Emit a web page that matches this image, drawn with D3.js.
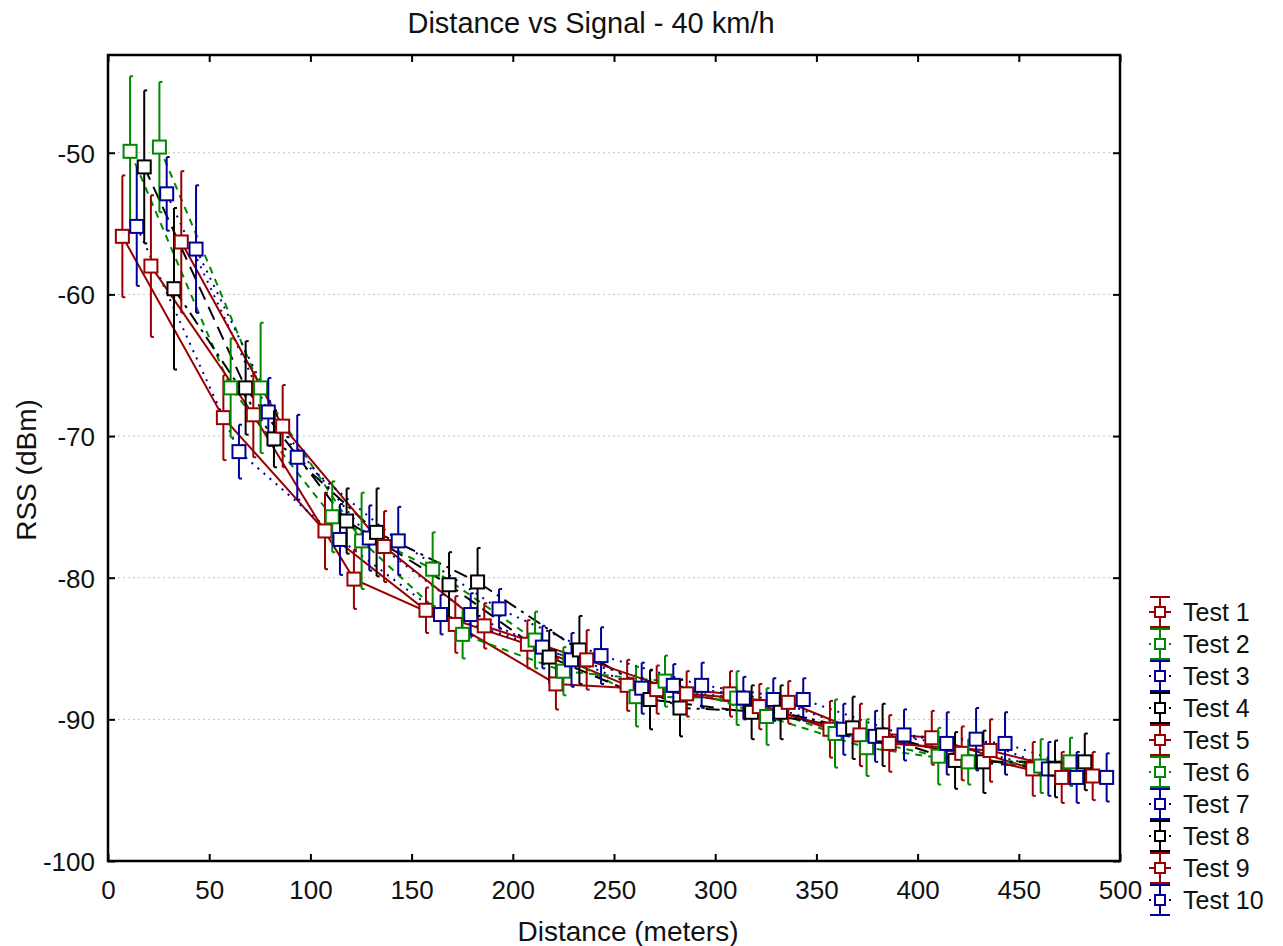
<!DOCTYPE html>
<html>
<head>
<meta charset="utf-8">
<script src="https://cdn.jsdelivr.net/npm/d3@7"></script>
<style>
  body { margin: 0; background: #fff; }
  svg { display: block; font-family: "Liberation Sans", Arial, sans-serif; }
</style>
</head>
<body>
<div id="chart"></div>
<script>
// Distance vs signal, 10 drive tests at 40 km/h
const testNames = ["Test 1", "Test 2", "Test 3", "Test 4", "Test 5",
                   "Test 6", "Test 7", "Test 8", "Test 9", "Test 10"];

// distance (m) of each mean point, one row per test
const distance = [
    [7.1, 57, 107.2, 157.1, 207.2, 256.5, 307.3, 356.7, 407, 456.9],
    [10.9, 60.6, 110.8, 160.4, 211, 260.9, 310.6, 359.2, 410.2, 460.8],
    [14.2, 64.7, 114.6, 164.3, 214.6, 263.7, 313.9, 363.3, 414.4, 464.6],
    [17.9, 68, 117.9, 168.5, 218, 267.8, 318, 367.9, 418.5, 467.9],
    [21.2, 71.8, 121.5, 171.6, 221.3, 271.1, 321.8, 371.5, 421.8, 471.2],
    [25.4, 75.4, 125.3, 175.2, 225, 275.2, 325.4, 374.8, 425, 475.3],
    [29, 79.2, 129.1, 179.2, 229, 279.3, 328.7, 379, 428.9, 478.6],
    [32.6, 82, 132.7, 182.6, 232.9, 282.6, 332.3, 382.7, 432.5, 482.6],
    [36.2, 86.3, 136.4, 185.9, 236.5, 285.9, 336.1, 386, 435.8, 486.5],
    [43.5, 93.5, 143.4, 193.2, 243.6, 293.3, 343.5, 393.3, 443.2, 493.4]
];

// mean RSS (dBm)
const rss = [
    [-55.9, -68.7, -76.7, -82.3, -84.7, -87.6, -88.2, -90.7, -91.3, -93.5],
    [-49.9, -66.6, -75.7, -79.4, -84.4, -88.4, -88.5, -91.0, -92.6, -93.3],
    [-55.2, -71.1, -77.3, -82.6, -84.9, -87.8, -88.5, -90.7, -91.7, -93.5],
    [-51.0, -66.6, -76.0, -80.5, -85.6, -88.6, -89.5, -90.6, -92.9, -93.5],
    [-58.0, -68.5, -80.1, -83.3, -87.5, -87.9, -89.1, -91.1, -92.4, -94.1],
    [-49.6, -66.6, -77.4, -84.0, -86.6, -87.3, -89.8, -92.0, -93.0, -93.0],
    [-52.9, -68.3, -77.2, -82.6, -85.8, -87.6, -88.6, -91.2, -91.4, -94.1],
    [-59.6, -70.2, -76.8, -80.3, -85.1, -89.2, -89.5, -91.1, -93.0, -93.0],
    [-56.3, -69.3, -77.8, -83.4, -85.8, -88.2, -88.8, -91.7, -92.2, -94.0],
    [-56.8, -71.5, -77.4, -82.2, -85.5, -87.6, -88.6, -91.1, -91.7, -94.1]
];

// half length of error bars (dBm)
const spread = [
    [4.3, 3.0, 2.7, 1.6, 1.7, 1.8, 1.6, 2.0, 1.9, 1.9],
    [5.3, 3.5, 2.5, 2.6, 2.0, 2.1, 1.9, 2.4, 2.0, 1.9],
    [4.2, 1.9, 2.5, 1.4, 1.5, 1.8, 1.5, 1.8, 2.2, 1.9],
    [5.4, 3.3, 2.3, 2.3, 1.9, 2.1, 1.9, 2.2, 2.0, 2.0],
    [5.0, 3.0, 2.1, 2.0, 1.8, 1.7, 1.6, 2.2, 1.9, 1.8],
    [4.6, 4.6, 3.4, 1.7, 1.7, 1.8, 2.0, 2.0, 1.6, 1.7],
    [2.6, 2.4, 2.3, 1.5, 1.9, 1.5, 1.5, 1.8, 2.2, 1.8],
    [5.7, 2.0, 3.1, 2.4, 2.4, 2.0, 1.9, 2.2, 2.2, 2.0],
    [5.0, 2.9, 2.5, 1.6, 2.1, 1.6, 1.5, 2.0, 2.2, 1.7],
    [4.5, 3.0, 2.4, 1.4, 2.0, 1.6, 1.5, 1.8, 2.2, 1.7]
];

const xTicks = [0, 50, 100, 150, 200, 250, 300, 350, 400, 450, 500];
const yTicks = [-100, -90, -80, -70, -60, -50];

// series styles (colour + dash pattern), repeating red/green/blue/black
const colors = ["#990000", "#008800", "#000099", "#000000", "#990000",
                "#008800", "#000099", "#000000", "#990000", "#000099"];
const dashes = [null, "7,6", "2,6", "14,8", null, "7,6", "2,6", "14,6,3,6", null, "2,6"];

const width = 1283, height = 946;
const plot = {left: 108, right: 1120, top: 55, bottom: 861};

const x = d3.scaleLinear().domain([0, 500]).range([plot.left, plot.right]);
const y = d3.scaleLinear().domain([-100, -43.1]).range([plot.bottom, plot.top]);

const svg = d3.select("#chart")
    .append("svg")
        .attr("width", width)
        .attr("height", height);

// horizontal dotted grid
svg.append("g")
    .selectAll("line")
        .data(yTicks.filter((d) => d > -100))
    .enter()
        .append("line")
        .attr("x1", plot.left).attr("x2", plot.right)
        .attr("y1", (d) => y(d)).attr("y2", (d) => y(d))
        .attr("stroke", "#c4c4c4")
        .attr("stroke-width", 1)
        .attr("stroke-dasharray", "2,3");

// build point records per test
const series = testNames.map((name, i) => ({
    name: name,
    color: colors[i],
    dash: dashes[i],
    points: distance[i].map((d, j) => ({x: d, y: rss[i][j], e: spread[i][j]}))
}));

const line = d3.line().x((d) => x(d.x)).y((d) => y(d.y));

// connecting lines first, then error bars and boxes on top
svg.append("g")
    .selectAll("path")
        .data(series)
    .enter()
        .append("path")
        .attr("d", (s) => line(s.points))
        .attr("fill", "none")
        .attr("stroke", (s) => s.color)
        .attr("stroke-width", 2)
        .attr("stroke-dasharray", (s) => s.dash);

const groups = svg.append("g")
    .selectAll("g")
        .data(series)
    .enter()
        .append("g")
        .attr("stroke", (s) => s.color)
        .attr("stroke-width", 2);

const pts = groups.selectAll("g")
        .data((s) => s.points)
    .enter()
        .append("g");

pts.append("line")
    .attr("x1", (d) => x(d.x)).attr("x2", (d) => x(d.x))
    .attr("y1", (d) => y(d.y - d.e)).attr("y2", (d) => y(d.y + d.e));
pts.append("line")
    .attr("x1", (d) => x(d.x)).attr("x2", (d) => x(d.x) + 3)
    .attr("y1", (d) => y(d.y + d.e)).attr("y2", (d) => y(d.y + d.e));
pts.append("line")
    .attr("x1", (d) => x(d.x)).attr("x2", (d) => x(d.x) + 3)
    .attr("y1", (d) => y(d.y - d.e)).attr("y2", (d) => y(d.y - d.e));

const box = 13;
pts.append("rect")
    .attr("x", (d) => x(d.x) - box / 2)
    .attr("y", (d) => y(d.y) - box / 2)
    .attr("width", box).attr("height", box)
    .attr("fill", "#fff");

// axes: ticks point inward on all four sides, plain hyphen for negatives
const fontSize = 26;
const fmt = (d) => String(d);
svg.append("g")
    .attr("transform", `translate(0,${plot.bottom})`)
    .call(d3.axisBottom(x).tickValues(xTicks).tickSize(-7).tickPadding(20).tickFormat(fmt));
const yAxis = svg.append("g")
    .attr("transform", `translate(${plot.left},0)`)
    .call(d3.axisLeft(y).tickValues(yTicks).tickSize(-7).tickPadding(13).tickFormat(fmt));
svg.append("g")
    .attr("transform", `translate(0,${plot.top})`)
    .call(d3.axisTop(x).tickValues(xTicks).tickSize(-7).tickFormat(""));
svg.append("g")
    .attr("transform", `translate(${plot.right},0)`)
    .call(d3.axisRight(y).tickValues(yTicks).tickSize(-7).tickFormat(""));

svg.selectAll(".domain").remove();
svg.selectAll(".tick line").attr("stroke", "#000").attr("stroke-width", 2);
svg.selectAll(".tick text")
    .attr("fill", "#111")
    .style("font-size", fontSize + "px")
    .style("font-family", "'Liberation Sans', Arial, sans-serif");
yAxis.selectAll(".tick text").attr("dy", "0.36em");

svg.append("rect")
    .attr("x", plot.left).attr("y", plot.top)
    .attr("width", plot.right - plot.left).attr("height", plot.bottom - plot.top)
    .attr("fill", "none")
    .attr("stroke", "#000")
    .attr("stroke-width", 2.5);

// titles
svg.append("text")
    .attr("x", 591).attr("y", 33)
    .attr("text-anchor", "middle")
    .attr("textLength", 367)
    .attr("lengthAdjust", "spacingAndGlyphs")
    .style("font-size", "29px")
    .style("fill", "#111")
    .text("Distance vs Signal - 40 km/h");

svg.append("text")
    .attr("x", 628).attr("y", 941)
    .attr("text-anchor", "middle")
    .style("font-size", "28px")
    .style("fill", "#111")
    .text("Distance (meters)");

svg.append("text")
    .attr("transform", "translate(36,470) rotate(-90)")
    .attr("text-anchor", "middle")
    .style("font-size", "28px")
    .style("fill", "#111")
    .text("RSS (dBm)");

// legend
const legendX = 1160, legendY0 = 612, legendStep = 32;
const leg = svg.append("g")
    .selectAll("g")
        .data(series)
    .enter()
        .append("g")
        .attr("transform", (s, i) => `translate(${legendX},${legendY0 + i * legendStep})`);

leg.append("line")
    .attr("x1", -11).attr("x2", 11).attr("y1", 0).attr("y2", 0)
    .attr("stroke", (s) => s.color).attr("stroke-width", 2)
    .attr("stroke-dasharray", (s) => s.dash ? "2,3" : null);
leg.append("line")
    .attr("x1", 0).attr("x2", 0).attr("y1", -15).attr("y2", 15)
    .attr("stroke", (s) => s.color).attr("stroke-width", 2);
leg.append("line")
    .attr("x1", -10).attr("x2", 10).attr("y1", -15).attr("y2", -15)
    .attr("stroke", (s) => s.color).attr("stroke-width", 2);
leg.append("line")
    .attr("x1", -10).attr("x2", 10).attr("y1", 15).attr("y2", 15)
    .attr("stroke", (s) => s.color).attr("stroke-width", 2);
leg.append("rect")
    .attr("x", -5).attr("y", -5).attr("width", 10).attr("height", 10)
    .attr("fill", "#fff")
    .attr("stroke", (s) => s.color).attr("stroke-width", 2);
leg.append("text")
    .attr("x", 23).attr("y", 9)
    .style("font-size", "25px")
    .style("fill", "#111")
    .text((s) => s.name);
</script>
</body>
</html>
